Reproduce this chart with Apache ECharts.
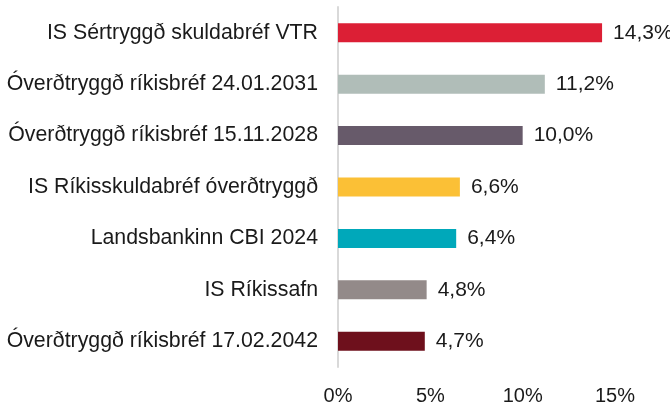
<!DOCTYPE html>
<html>
<head>
<meta charset="utf-8">
<script src="https://cdn.jsdelivr.net/npm/echarts@6/dist/echarts.min.js"></script>
<style>
    html, body { margin: 0; padding: 0; background: #fff; }
    #dataChart { width: 670px; height: 403px; }
</style>
</head>
<body>
<div id="dataChart"></div>
<script>
// flokkar, efst til neðst
var categories = [
    'IS Sértryggð skuldabréf VTR',
    'Óverðtryggð ríkisbréf 24.01.2031',
    'Óverðtryggð ríkisbréf 15.11.2028',
    'IS Ríkisskuldabréf óverðtryggð',
    'Landsbankinn CBI 2024',
    'IS Ríkissafn',
    'Óverðtryggð ríkisbréf 17.02.2042'
];
var values = [14.3, 11.2, 10.0, 6.6, 6.4, 4.8, 4.7];
var barColors = ['#dc1f35', '#b0bdb8', '#675a6a', '#fbc036', '#00a8ba', '#938a89', '#6e101c'];
var tickValues = [0, 5, 10, 15];

var myChart = echarts.init(document.getElementById('dataChart'));
var font = 'Liberation Sans, Arial, sans-serif';

var option = {
    animation: false,
    grid: {
        left: 338,
        right: 55,
        top: 7,
        bottom: 36,
        containLabel: false,
        outerBoundsMode: 'none'
    },
    xAxis: {
        type: 'value',
        min: tickValues[0],
        max: tickValues[tickValues.length - 1],
        interval: 5,
        splitLine: { show: false },
        axisLine: { show: false },
        axisTick: { show: false },
        axisLabel: {
            fontFamily: font,
            fontSize: 20,
            color: '#1a1a1a',
            margin: 19,
            formatter: function (v) { return v + '%'; }
        }
    },
    yAxis: {
        type: 'category',
        inverse: true,
        data: categories,
        axisLine: { show: true, lineStyle: { color: '#d9d9d9', width: 2 } },
        axisTick: { show: false },
        axisLabel: {
            fontFamily: font,
            fontSize: 21.3,
            color: '#1a1a1a',
            margin: 20
        }
    },
    series: [
        {
            type: 'bar',
            barWidth: 19,
            data: values.map(function (v, i) {
                return { value: v, itemStyle: { color: barColors[i] } };
            }),
            label: {
                show: true,
                position: 'right',
                distance: 11,
                fontFamily: font,
                fontSize: 21,
                color: '#1a1a1a',
                formatter: function (p) { return p.value.toFixed(1).replace('.', ',') + '%'; }
            }
        }
    ]
};

myChart.setOption(option);
</script>
</body>
</html>
